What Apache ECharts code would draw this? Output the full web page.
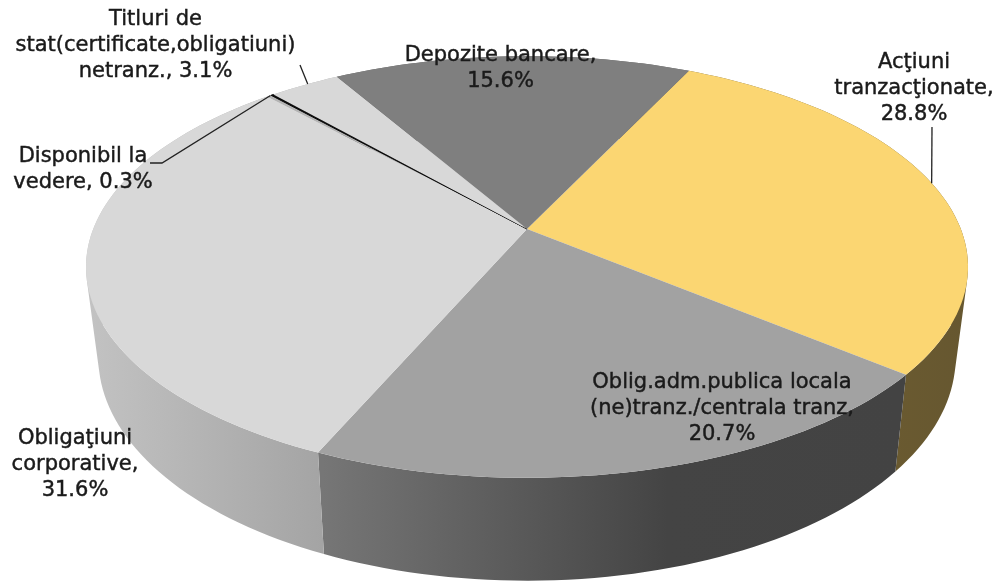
<!DOCTYPE html>
<html>
<head>
<meta charset="utf-8">
<title>Structura portofoliului</title>
<style>
  html, body { margin: 0; padding: 0; background: #fff; }
  #chart { width: 998px; height: 581px; }
</style>
<script src="https://cdn.jsdelivr.net/npm/echarts@6/dist/echarts.min.js"></script>
</head>
<body>
<div id="chart"></div>
<script>
// Portfolio shares, clockwise from the boundary at the upper right.
const categories = [
  'Acţiuni tranzacţionate',
  'Oblig.adm.publica locala (ne)tranz./centrala tranz',
  'Obligaţiuni corporative',
  'Disponibil la vedere',
  'Titluri de stat(certificate,obligatiuni) netranz.',
  'Depozite bancare'
];
const shares = [28.8, 20.7, 31.6, 0.3, 3.1, 15.6];
const labelLines = [
  ['Acţiuni', 'tranzacţionate,'],
  ['Oblig.adm.publica locala', '(ne)tranz./centrala tranz,'],
  ['Obligaţiuni', 'corporative,'],
  ['Disponibil la', 'vedere,'],
  ['Titluri de', 'stat(certificate,obligatiuni)', 'netranz.,'],
  ['Depozite bancare,']
];
// Whether the value sits on its own line or shares the last text line.
const valueOnOwnLine = [true, true, true, false, false, true];

// Colours of the top faces.
const topColors = ['#fbd672', '#a2a2a2', '#d8d8d8', '#b4b4b4', '#d8d8d8', '#7f7f7f'];
// Outer wall shading: page-space x range and colour stops, one entry per slice.
const wallShades = [
  { from: 890, to: 968, stops: [[0, '#6a5a30'], [1, '#665730']] },
  { from: 323, to: 897, stops: [[0, '#767676'], [0.6, '#444444'], [1, '#434343']] },
  { from: 90, to: 323, stops: [[0, '#c2c2c2'], [1, '#a4a4a4']] },
  { from: 0, to: 998, stops: [[0, '#999999'], [1, '#999999']] },
  { from: 0, to: 998, stops: [[0, '#b0b0b0'], [1, '#b0b0b0']] },
  { from: 0, to: 998, stops: [[0, '#666666'], [1, '#666666']] }
];

// Projection of the tilted disc onto the page.
const disc = {
  cx: 527, cy: 229, width: 433.8, height: 204, tilt: 0.18, startDeg: 25.7,
  wallShrink: 0.972, wallStretch: 1.06, wallDrop: 88
};
// Text blocks: centre x and y of the first line.
const labelPlaces = [
  { x: 914, y: 63 }, { x: 722, y: 383 }, { x: 75, y: 439 },
  { x: 83, y: 157 }, { x: 155.5, y: 20 }, { x: 500.5, y: 56 }
];
// Leader lines start near the text and finish on the rim, part-way along the slice.
const leaders = [
  { from: [[932, 127]], along: 0.49 }, null, null,
  { from: [[150, 163], [162, 163]], along: 0.5 }, { from: [[300, 65]], along: 0.55 }, null
];
const labelFont = { size: 21, family: '"DejaVu Sans", sans-serif', lineGap: 26 };

const total = shares.reduce((a, b) => a + b, 0);
const rad = d => d * Math.PI / 180;

function startAngle(index) {
  let sum = 0;
  for (let i = 0; i < index; i++) sum += shares[i];
  return disc.startDeg + sum / total * 360;
}
function project(deg, r) {
  const u = r * Math.sin(rad(deg));
  const v = -r * Math.cos(rad(deg));
  const d = 1 - disc.tilt * v;
  return [disc.cx + disc.width * u / d, disc.cy + disc.height * v / d];
}
function toWall(p) {
  return [
    disc.cx + (p[0] - disc.cx) * disc.wallShrink,
    disc.cy + disc.wallDrop + (p[1] - disc.cy) * disc.wallStretch
  ];
}
function arc(a0, a1) {
  const steps = Math.max(2, Math.ceil(Math.abs(a1 - a0) / 1.5));
  const pts = [];
  for (let i = 0; i <= steps; i++) pts.push(project(a0 + (a1 - a0) * i / steps, 1));
  return pts;
}
// Signed area tells which way a quad winds, so all of them can be filled as one shape.
function windForward(q) {
  let area = 0;
  q.forEach((p, n) => {
    const next = q[(n + 1) % q.length];
    area += p[0] * next[1] - next[0] * p[1];
  });
  return area < 0 ? q.slice().reverse() : q;
}

// A wall is one path of quads so the tangent edges at the far left and right stay filled.
function renderWall(params, api) {
  const i = params.dataIndex;
  const a0 = startAngle(i), a1 = a0 + api.value(0) / total * 360;
  const rim = arc(a0, a1);
  const low = rim.map(toWall);
  const shade = wallShades[i];
  let pathData = '';
  for (let k = 0; k + 1 < rim.length; k++) {
    const q = windForward([rim[k], rim[k + 1], low[k + 1], low[k]]);
    pathData += 'M' + q.map(p => p[0].toFixed(2) + ' ' + p[1].toFixed(2)).join('L') + 'Z';
  }
  return {
    type: 'path',
    shape: { pathData: pathData },
    style: {
      fill: new echarts.graphic.LinearGradient(
        shade.from, 0, shade.to, 0,
        shade.stops.map(s => ({ offset: s[0], color: s[1] })),
        true
      )
    }
  };
}

function renderTop(params, api) {
  const i = params.dataIndex;
  const a0 = startAngle(i), a1 = a0 + api.value(0) / total * 360;
  const children = [{
    type: 'polygon',
    shape: { points: [[disc.cx, disc.cy]].concat(arc(a0, a1)) },
    style: { fill: topColors[i] }
  }];
  // The tiny cash slice carries a dark sliver along its trailing edge.
  if (api.value(0) < 1) {
    children.push({
      type: 'polygon',
      shape: { points: [[disc.cx, disc.cy]].concat(arc(a0 + (a1 - a0) * 0.6, a1)) },
      style: { fill: '#0a0a0a', stroke: '#0a0a0a', lineWidth: 1 }
    });
  }
  return { type: 'group', children: children };
}

function renderLabel(params, api) {
  const i = params.dataIndex;
  const value = api.value(0).toFixed(1) + '%';
  const lines = labelLines[i].slice();
  if (valueOnOwnLine[i]) lines.push(value);
  else lines[lines.length - 1] += ' ' + value;
  const place = labelPlaces[i];
  const children = lines.map((line, k) => ({
    type: 'text',
    style: {
      x: place.x, y: place.y + k * labelFont.lineGap,
      text: line, fill: '#1a1a1a', stroke: '#1a1a1a', lineWidth: 0.45,
      align: 'center', verticalAlign: 'middle',
      font: labelFont.size + 'px ' + labelFont.family
    }
  }));
  const leader = leaders[i];
  if (leader) {
    const hit = startAngle(i) + leader.along * api.value(0) / total * 360;
    children.push({
      type: 'polyline',
      shape: { points: leader.from.concat([project(hit, 1)]) },
      style: { fill: null, stroke: '#222222', lineWidth: 1.3 }
    });
  }
  return { type: 'group', children: children };
}

const chart = echarts.init(document.getElementById('chart'), null, { renderer: 'canvas' });
const rows = shares.map((v, i) => ({ name: categories[i], value: [v] }));
const layer = (renderItem, z) => ({
  type: 'custom', coordinateSystem: 'none', renderItem: renderItem,
  data: rows, z: z, silent: true, animation: false, clip: false
});
chart.setOption({
  backgroundColor: '#ffffff',
  animation: false,
  series: [layer(renderWall, 1), layer(renderTop, 2), layer(renderLabel, 3)]
});
</script>
</body>
</html>
